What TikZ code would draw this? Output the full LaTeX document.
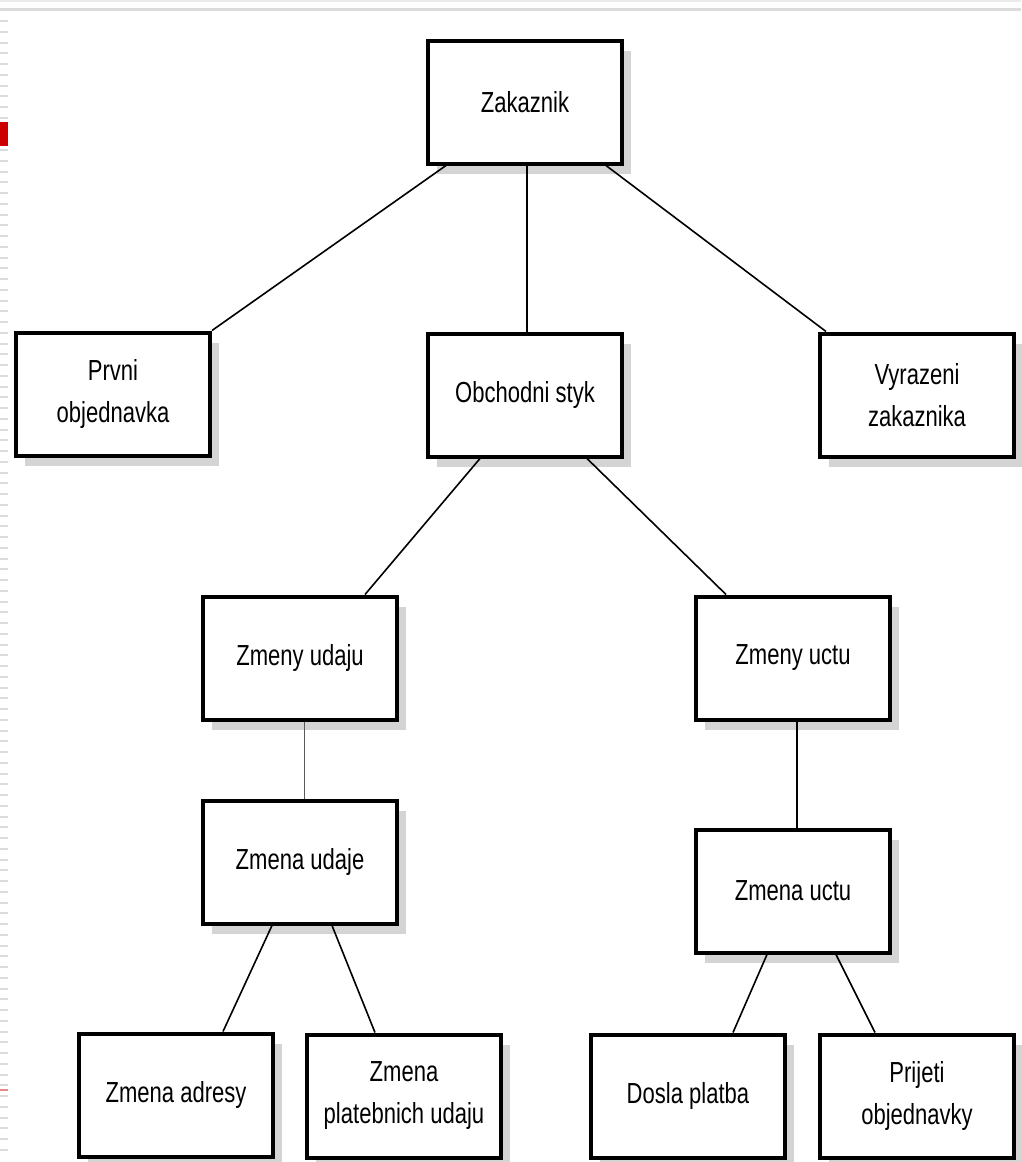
\documentclass[tikz,border=0pt]{standalone}
\usepackage{fontspec}
\newfontfamily\boxfont[FakeStretch=0.76]{Liberation Sans}
\usetikzlibrary{shadows}
\definecolor{shade}{HTML}{D4D4D4}
\definecolor{rulegray}{HTML}{DCDCDC}
\definecolor{tabred}{HTML}{CC0000}
\definecolor{tabpink}{HTML}{E88A8A}

\begin{document}
\begin{tikzpicture}[x=1pt,y=-1pt,
  entity/.style={draw, line width=4pt, fill=white,
    minimum width=194pt, minimum height=123pt, inner sep=0pt,
    align=center, font=\boxfont\fontsize{29}{42}\selectfont,
    drop shadow={shadow xshift=9pt, shadow yshift=-10pt, fill=shade, opacity=1}},
  link/.style={line width=1.6pt},
  thinlink/.style={line width=1pt, draw=black!65}]

  % page frame
  \useasboundingbox (0,0) rectangle (1021,1162);
  \fill[white] (0,0) rectangle (1021,1162);
  \fill[black!8] (0,0) rectangle (1021,1.5);
  \fill[rulegray] (0,8) rectangle (1021,11);
  \foreach \k in {0,...,105} {
    \fill[rulegray] (0,{20+10.75*\k}) rectangle (8,{22+10.75*\k});
  }
  \fill[white] (0,119) rectangle (8,148);
  \fill[tabred] (0,122) rectangle (8,146);
  \fill[tabpink] (0,1088.5) rectangle (8,1090.5);

  % entities
  \node[entity] (zak) at (525,102)  {Zakaznik};
  \node[entity] (prv) at (113,394)  {Prvni\\objednavka};
  \node[entity] (obc) at (525,395)  {Obchodni styk};
  \node[entity] (vyr) at (917,395)  {Vyrazeni\\zakaznika};
  \node[entity] (zud) at (300,658)  {Zmeny udaju};
  \node[entity] (zuc) at (793,658)  {Zmeny uctu};
  \node[entity] (zue) at (300,862)  {Zmena udaje};
  \node[entity] (zmu) at (793,891)  {Zmena uctu};
  \node[entity] (adr) at (176,1095) {Zmena adresy};
  \node[entity] (pla) at (404,1096) {Zmena\\platebnich udaju};
  \node[entity] (dos) at (688,1096) {Dosla platba};
  \node[entity] (pri) at (917,1096) {Prijeti\\objednavky};

  % connectors
  \draw[link] ([xshift=20pt]zak.south west) -- (prv.north east);
  \draw[link] ([xshift=2pt]zak.south) -- ([xshift=2pt]obc.north);
  \draw[link] ([xshift=180pt]zak.south west) -- ([xshift=8pt]vyr.north west);
  \draw[link] ([xshift=54pt]obc.south west) -- ([xshift=164pt]zud.north west);
  \draw[link] ([xshift=161pt]obc.south west) -- ([xshift=32pt]zuc.north west);
  \draw[thinlink] ([xshift=4pt]zud.south) -- ([xshift=4pt]zue.north);
  \draw[link] ([xshift=4pt]zuc.south) -- ([xshift=4pt]zmu.north);
  \draw[link] ([xshift=71pt]zue.south west) -- ([xshift=146pt]adr.north west);
  \draw[link] ([xshift=131pt]zue.south west) -- ([xshift=70pt]pla.north west);
  \draw[link] ([xshift=73pt]zmu.south west) -- ([xshift=144pt]dos.north west);
  \draw[link] ([xshift=142pt]zmu.south west) -- ([xshift=57pt]pri.north west);
\end{tikzpicture}
\end{document}
